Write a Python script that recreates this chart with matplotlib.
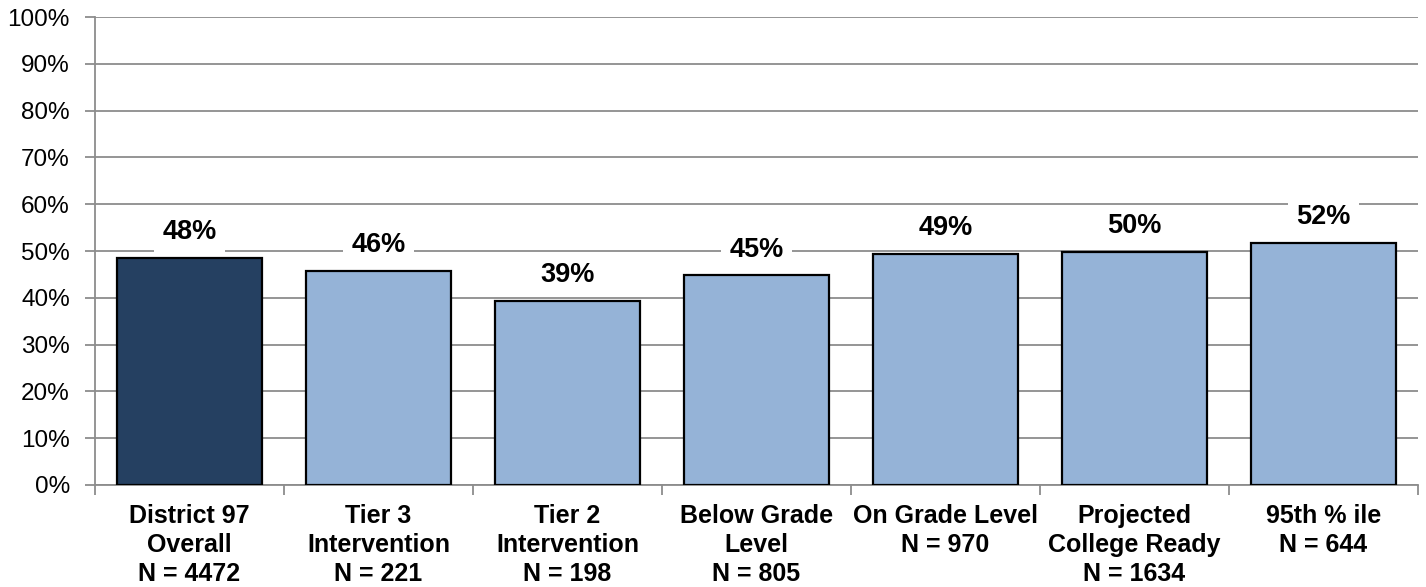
import matplotlib
matplotlib.use("Agg")
import matplotlib.pyplot as plt
from matplotlib.ticker import FixedLocator, PercentFormatter

plt.rcParams['font.family'] = ['Liberation Sans', 'DejaVu Sans']

categories = ["District 97\nOverall\nN = 4472", "Tier 3\nIntervention\nN = 221",
              "Tier 2\nIntervention\nN = 198", "Below Grade\nLevel\nN = 805",
              "On Grade Level\nN = 970", "Projected\nCollege Ready\nN = 1634",
              "95th % ile\nN = 644"]
values = [48.5, 45.7, 39.4, 44.8, 49.4, 49.8, 51.8]
labels = ["48%", "46%", "39%", "45%", "49%", "50%", "52%"]
colors = ["#254061", "#95B3D7", "#95B3D7", "#95B3D7", "#95B3D7", "#95B3D7", "#95B3D7"]

fig = plt.figure(figsize=(14.26, 5.87), dpi=100)
ax = fig.add_axes([0.0666, 0.1738, 0.9278, 0.7972])

x = list(range(len(categories)))
bars = ax.bar(x, values, width=0.77, color=colors, edgecolor="black", linewidth=1.6, zorder=3)

for xi, v, lab in zip(x, values, labels):
    ax.annotate(lab, (xi, v), xytext=(0, 18.5), textcoords="offset points",
                ha="center", va="center", fontsize=19.5, fontweight="bold",
                bbox=dict(boxstyle="square,pad=0.3", fc="white", ec="none"), zorder=4)

ax.set_xlim(-0.5, len(categories) - 0.5)
ax.set_ylim(0, 100)
ax.yaxis.set_major_locator(FixedLocator(range(0, 101, 10)))
ax.yaxis.set_major_formatter(PercentFormatter(decimals=0))
ax.grid(axis="y", color="#8c8c8c", linewidth=1.3, zorder=0)
ax.set_axisbelow(True)

ax.set_xticks(x)
ax.set_xticklabels(categories, fontsize=18, fontweight="bold", linespacing=1.24)
ax.set_xticks([i - 0.5 for i in range(len(categories) + 1)], minor=True)
ax.tick_params(axis="x", which="major", length=0, pad=14)
ax.tick_params(axis="x", which="minor", length=7, width=1.3, color="#8c8c8c", direction="out")
ax.tick_params(axis="y", length=7, width=1.3, color="#8c8c8c", labelsize=17.5, pad=11)

for side in ["top", "right"]:
    ax.spines[side].set_visible(False)
for side in ["left", "bottom"]:
    ax.spines[side].set_color("#8c8c8c")
    ax.spines[side].set_linewidth(1.3)

fig.savefig("out.png", dpi=100)
